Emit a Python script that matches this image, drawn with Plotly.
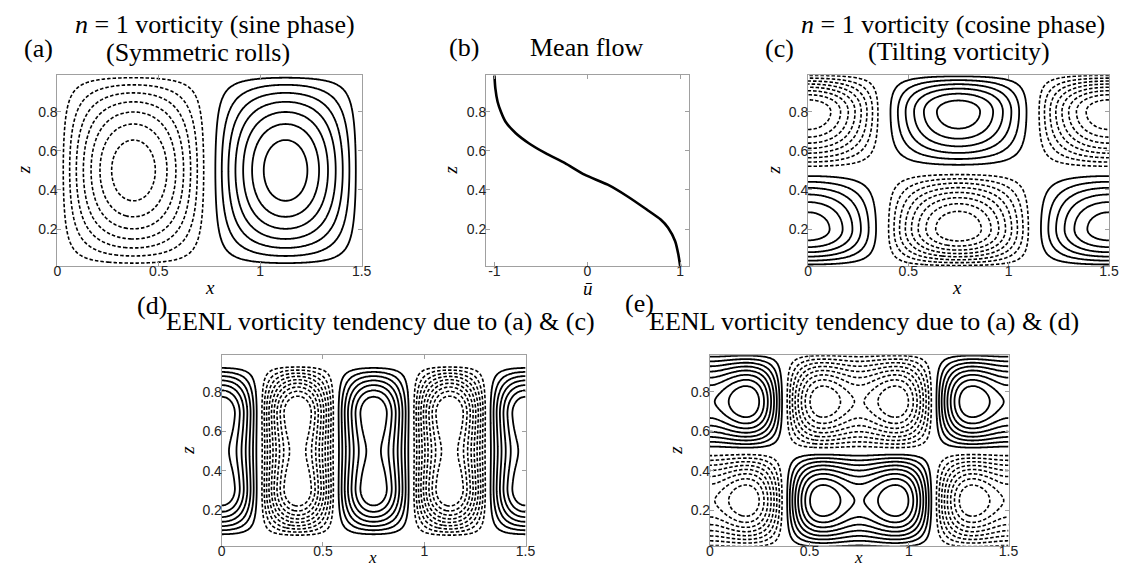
import numpy as np
import plotly.graph_objects as go

W, H = 1132, 569

# ---------------- data ----------------
# panel (b): mean-flow profile
z_mean = [0.010, 0.071, 0.139, 0.207, 0.249, 0.300, 0.368, 0.427, 0.478, 0.537,
          0.588, 0.639, 0.690, 0.749, 0.800, 0.851, 0.919, 0.986]
u_mean = [1.00, 0.98, 0.945, 0.87, 0.79, 0.64, 0.43, 0.22, -0.03, -0.24,
          -0.45, -0.63, -0.77, -0.88, -0.93, -0.966, -0.99, -1.00]

# tick labels
x_ticks = [0, 0.5, 1, 1.5]
x_ticklabels = ["0", "0.5", "1", "1.5"]
z_ticks = [0.2, 0.4, 0.6, 0.8]
z_ticklabels = ["0.2", "0.4", "0.6", "0.8"]
u_ticks = [-1, 0, 1]
u_ticklabels = ["-1", "0", "1"]

# domain and mode parameters of the contour panels
Lx = 1.5
roll_power_a = 0.85                 # (a) vertical shape exponent
tilt_center = 0.80                  # (c) centre of upper cell
amp_neg = {"a": 1.0, "c": 1.35, "d": 1.3, "e": 1.0}
ramp_d = [0.06, 0.26]               # (d) wall offset, wall ramp width
dip_d = [0.12, 0.13]                # (d) mid-depth dip, width
harm_e = [1.0, -0.3]                # (e) amplitudes of wavenumbers 1 and 3

# contour levels: (first, last, step) for positive & negative
levels = {
    "a": (0.12, 0.90, 0.13, -0.90, -0.12, 0.13),
    "c": (0.15, 0.90, 0.15, -1.20, -0.15, 0.15),
    "d": (0.12, 0.84, 0.12, -1.08, -0.12, 0.12),
    "e": (0.11, 0.88, 0.11, -0.88, -0.11, 0.11),
}

# ---------------- fields ----------------
X = np.linspace(0, Lx, 241)
Z = np.linspace(0, 1, 161)
xx, zz = np.meshgrid(X, Z)
k = 2 * np.pi / Lx
dw = np.minimum(zz, 1 - zz)


def ramp(d, w, d0=0.0):
    s = np.clip((d - d0) / w, 0, 1)
    return np.sin(np.pi / 2 * s)


A = -np.sin(k * xx) * np.sin(np.pi * zz) ** roll_power_a

zup = np.where(zz >= 0.5, zz, 1 - zz)
sgn = np.where(zz >= 0.5, 1.0, -1.0)
uu = np.where(zup < tilt_center, 0.5 * (zup - 0.5) / (tilt_center - 0.5),
              0.5 + 0.5 * (zup - tilt_center) / (1 - tilt_center))
C = -np.cos(k * xx) * sgn * np.sin(np.pi * uu)

Gd = np.cos(2 * k * xx)
Fd = ramp(dw, ramp_d[1], ramp_d[0]) * (1 - dip_d[0] * np.exp(-((zz - 0.5) / dip_d[1]) ** 2))
D = Gd * Fd

P = harm_e[0] * np.cos(k * xx) + harm_e[1] * np.cos(3 * k * xx)
E = P * (-np.sin(2 * np.pi * zz))
E = E / np.abs(E).max()

fields = {"a": A, "c": C, "d": D, "e": E}
for key, f in fields.items():
    f = np.where(f < 0, amp_neg[key] * f, f)
    fields[key] = np.round(f, 4)

# ---------------- layout geometry (px) ----------------
def px_x(p):
    return p / W


def px_y(p):
    return 1 - p / H


panels = {
    "a": ([46, 354], [67.3, 258.3], [0.01, 0.986]),
    "b": ([480, 685], [67.3, 258.3], [0.01, 0.986]),
    "c": ([806, 1110.7], [67.3, 258.3], [0.01, 0.986]),
    "d": ([212.3, 520], [347.3, 537.7], [0.022, 0.984]),
    "e": ([706.7, 1009], [347.3, 537.7], [0.022, 0.984]),
}
axis_ids = {"a": "", "b": "2", "c": "3", "d": "4", "e": "5"}

fig = go.Figure()
FRAME = "#a0a0a0"
TICKFONT = dict(family="Liberation Sans, Arial, sans-serif", size=14, color="#222")
SERIF = "Liberation Serif, Times New Roman, serif"

for key in ["a", "c", "d", "e"]:
    f = fields[key]
    ps, pe, pst, ns, ne, nst = levels[key]
    ax = axis_ids[key]
    common = dict(x=X, y=Z, z=f, showscale=False, hoverinfo="skip",
                  xaxis="x" + ax, yaxis="y" + ax)
    fig.add_trace(go.Contour(**common,
                             contours=dict(coloring="none", start=ps, end=pe, size=pst),
                             line=dict(color="black", width=1.8, smoothing=1)))
    fig.add_trace(go.Contour(**common,
                             contours=dict(coloring="none", start=ns, end=ne, size=nst),
                             line=dict(color="black", width=1.6, dash="3.5px,2px", smoothing=1)))

fig.add_trace(go.Scatter(x=u_mean, y=z_mean, mode="lines", hoverinfo="skip",
                         line=dict(color="black", width=2.6, shape="spline", smoothing=0.6),
                         xaxis="x2", yaxis="y2", showlegend=False))

layout = dict(width=W, height=H, margin=dict(l=0, r=0, t=0, b=0),
              paper_bgcolor="white", plot_bgcolor="white", showlegend=False)

for key, (xs, ys, zr) in panels.items():
    ax = axis_ids[key]
    base = dict(showgrid=False, zeroline=False, showline=True, linecolor=FRAME, linewidth=1,
                mirror="ticks", ticks="inside", ticklen=4, tickcolor=FRAME, tickwidth=1,
                tickfont=TICKFONT, fixedrange=True)
    xa = dict(domain=[px_x(xs[0]), px_x(xs[1])], anchor="y" + ax,
              ticklabelstandoff=-8, **base)
    ya = dict(domain=[px_y(ys[1]), px_y(ys[0])], anchor="x" + ax, range=zr,
              tickvals=z_ticks, ticktext=z_ticklabels, ticklabelstandoff=-4, **base)
    if key == "b":
        xa.update(range=[-1.09, 1.09], tickvals=u_ticks, ticktext=u_ticklabels)
    else:
        xa.update(range=[0, Lx], tickvals=x_ticks, ticktext=x_ticklabels)
    layout["xaxis" + ax] = xa
    layout["yaxis" + ax] = ya

fig.update_layout(**layout)

# ---------------- texts ----------------
def note(t, x, y, size=26, angle=0, yanchor="middle"):
    fig.add_annotation(text=t, x=px_x(x), y=y, xref="paper", yref="paper",
                       xanchor="center", yanchor=yanchor, showarrow=False,
                       textangle=angle, font=dict(family=SERIF, size=size, color="black"))


# first title lines hang from the top edge of the page
note("<i>n</i> = 1 vorticity (sine phase)", 206, 1, yanchor="top")
note("<i>n</i> = 1 vorticity (cosine phase)", 952.5, 1, yanchor="top")

texts = [
    # (text, x px, y px, size, angle)
    ("(Symmetric rolls)", 188.5, 44, 26, 0),
    ("(a)", 27, 40, 26, 0),
    ("(b)", 458, 39, 26, 0),
    ("Mean flow", 582, 39, 26, 0),
    ("(Tilting vorticity)", 959, 43, 26, 0),
    ("(c)", 777, 40, 26, 0),
    ("(d)", 142, 297, 26, 0),
    ("EENL vorticity tendency due to (a) &amp; (c)", 373, 313, 26, 0),
    ("(e)", 635, 295, 26, 0),
    ("EENL vorticity tendency due to (a) &amp; (d)", 863, 313, 26, 0),
    # axis labels
    ("<i>x</i>", 200, 279, 19, 0),
    ("<i>ū</i>", 583, 280, 19, 0),
    ("<i>x</i>", 957, 279, 19, 0),
    ("<i>x</i>", 365, 549, 17, 0),
    ("<i>x</i>", 857, 549, 17, 0),
    ("<i>z</i>", 12.5, 162, 19, -90),
    ("<i>z</i>", 444, 162, 19, -90),
    ("<i>z</i>", 772, 162, 19, -90),
    ("<i>z</i>", 178, 442, 19, -90),
    ("<i>z</i>", 672, 442, 19, -90),
]
for t, x, y, s, ang in texts:
    note(t, x, px_y(y), size=s, angle=ang)

fig.write_html("out.html")
